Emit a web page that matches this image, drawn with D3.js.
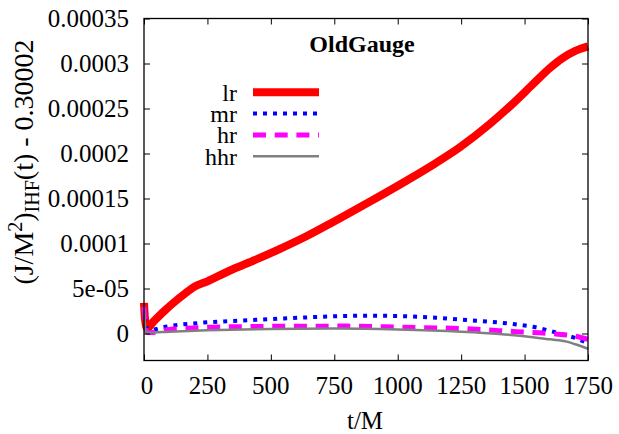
<!DOCTYPE html>
<html>
<head>
<meta charset="utf-8">
<script src="https://cdn.jsdelivr.net/npm/d3@7"></script>
<style>
  html, body { margin: 0; padding: 0; background: #fff; }
</style>
</head>
<body>
<svg id="chart" width="619" height="434" font-family="'Liberation Serif', 'Times New Roman', Times, 'DejaVu Serif', serif"></svg>
<script>
// Time samples (t/M) and IHF energy offsets for each resolution
const tLr = [0, 4, 12, 40, 80, 120, 160, 193, 250, 339, 440, 536, 640, 733, 785, 900, 1036, 1150, 1245, 1364, 1450, 1533, 1600, 1650, 1700, 1750];
const lr  = [3.4e-5, 1.6e-5, 6e-6, 1.4e-5, 2.5e-5, 3.5e-5, 4.4e-5, 5.1e-5, 5.8e-5, 7.0e-5, 8.2e-5, 9.4e-5, 1.08e-4, 1.22e-4, 1.30e-4, 1.48e-4, 1.70e-4, 1.894e-4, 2.07e-4, 2.33e-4, 2.545e-4, 2.77e-4, 2.95e-4, 3.06e-4, 3.14e-4, 3.19e-4];

const tMr = [0, 5, 15, 30, 75, 209, 390, 587, 800, 900, 1009, 1150, 1272, 1400, 1469, 1550, 1600, 1650, 1700, 1750];
const mr  = [3.0e-5, 1.5e-5, 4e-6, 4e-6, 7e-6, 1.15e-5, 1.45e-5, 1.72e-5, 1.95e-5, 1.98e-5, 1.93e-5, 1.75e-5, 1.5e-5, 1.22e-5, 1.0e-5, 6.5e-6, 3e-6, -1e-6, -5e-6, -1.1e-5];

const tHr = [0, 5, 12, 25, 100, 272, 536, 800, 1009, 1272, 1469, 1612, 1700, 1750];
const hr  = [3.0e-5, 1.2e-5, 1e-6, 1e-6, 4.5e-6, 7e-6, 8e-6, 8.2e-6, 7e-6, 5.2e-6, 2e-6, -3e-7, -3e-6, -6.5e-6];

const tHhr = [0, 8, 20, 100, 250, 500, 750, 1000, 1250, 1400, 1500, 1600, 1667, 1700, 1750];
const hhr  = [2.8e-5, 2e-6, 1e-6, 2e-6, 3.5e-6, 5e-6, 5.5e-6, 4.5e-6, 2e-6, -5e-7, -3e-6, -6.5e-6, -9e-6, -1.2e-5, -1.7e-5];

const xTicks = [0, 250, 500, 750, 1000, 1250, 1500, 1750];
const yTicks = [0, 5e-5, 1e-4, 1.5e-4, 2e-4, 2.5e-4, 3e-4, 3.5e-4];
const yTickLabels = ["0", "5e-05", "0.0001", "0.00015", "0.0002", "0.00025", "0.0003", "0.00035"];

const seriesNames = ["lr", "mr", "hr", "hhr"];

const serif = "'Liberation Serif', 'Times New Roman', Times, 'DejaVu Serif', serif";
const svg = d3.select("#chart");
const plotLeft = 144, plotRight = 588, plotTop = 18.5, plotBottom = 360.5;

const x = d3.scaleLinear().domain([0, 1750]).range([plotLeft, plotRight]);
const y = d3.scaleLinear().domain([-3e-5, 3.5e-4]).range([plotBottom, plotTop]);

const styles = {
  lr:  { color: "#ff0000", width: 8,   dash: null },
  mr:  { color: "#0000ff", width: 4,   dash: "4,6" },
  hr:  { color: "#ff00ff", width: 5,   dash: "13,8.7" },
  hhr: { color: "#808080", width: 2.5, dash: null }
};

const series = [
  { name: "hhr", t: tHhr, v: hhr },
  { name: "hr",  t: tHr,  v: hr },
  { name: "mr",  t: tMr,  v: mr },
  { name: "lr",  t: tLr,  v: lr }
];

const line = d3.line()
  .x(d => x(d[0]))
  .y(d => y(d[1]))
  .curve(d3.curveMonotoneX);

// curves, lr first so the finer resolutions sit on top of it
const curves = svg.append("g");
["lr", "mr", "hr", "hhr"].forEach(name => {
  const s = series.find(d => d.name === name);
  const st = styles[name];
  curves.append("path")
    .datum(d3.zip(s.t, s.v))
    .attr("d", line)
    .attr("fill", "none")
    .attr("stroke", st.color)
    .attr("stroke-width", st.width)
    .attr("stroke-dasharray", st.dash)
    .attr("stroke-linejoin", "round");
});

// frame with mirrored inward ticks
const frame = svg.append("g");
const tickLen = 6;
frame.append("g").attr("transform", `translate(0,${plotBottom})`)
  .call(d3.axisTop(x).tickValues(xTicks).tickSize(tickLen).tickFormat(""));
frame.append("g").attr("transform", `translate(0,${plotTop})`)
  .call(d3.axisBottom(x).tickValues(xTicks).tickSize(tickLen).tickFormat(""));
frame.append("g").attr("transform", `translate(${plotLeft},0)`)
  .call(d3.axisRight(y).tickValues(yTicks).tickSize(tickLen).tickFormat(""));
frame.append("g").attr("transform", `translate(${plotRight},0)`)
  .call(d3.axisLeft(y).tickValues(yTicks).tickSize(tickLen).tickFormat(""));
frame.selectAll(".domain").remove();
frame.selectAll(".tick line").attr("stroke", "#000").attr("stroke-width", 1);
frame.append("rect")
  .attr("x", plotLeft).attr("y", plotTop)
  .attr("width", plotRight - plotLeft).attr("height", plotBottom - plotTop)
  .attr("fill", "none").attr("stroke", "#000").attr("stroke-width", 1.3);

// every label uses the same serif face
const label = (sel) => sel.style("font-family", serif).attr("fill", "#000");

// tick labels
svg.append("g").selectAll("text").data(xTicks).join("text")
  .call(label)
  .attr("x", d => x(d) + (d === 0 ? 3 : 0))
  .attr("y", 394)
  .attr("text-anchor", "middle")
  .attr("font-size", 25)
  .text(d => d);

svg.append("g").selectAll("text").data(yTicks).join("text")
  .call(label)
  .attr("x", 129)
  .attr("y", d => y(d) + 8.5)
  .attr("text-anchor", "end")
  .attr("font-size", 25)
  .text((d, i) => yTickLabels[i]);

// axis titles
svg.append("text")
  .call(label)
  .attr("x", 365).attr("y", 429)
  .attr("text-anchor", "middle")
  .attr("font-size", 25)
  .text("t/M");

const yl = svg.append("text")
  .call(label)
  .attr("transform", "translate(33,162) rotate(-90)")
  .attr("text-anchor", "middle")
  .attr("font-size", 28);
yl.append("tspan").text("(J/M");
yl.append("tspan").attr("dy", -11).attr("font-size", 20).text("2");
yl.append("tspan").attr("dy", 11).text(")");
yl.append("tspan").attr("dy", 6).attr("font-size", 20).text("IHF");
yl.append("tspan").attr("dy", -6).text("(t) - 0.30002");

// plot title
svg.append("text")
  .call(label)
  .attr("x", 362).attr("y", 52)
  .attr("text-anchor", "middle")
  .attr("font-size", 24)
  .attr("font-weight", "bold")
  .text("OldGauge");

// legend
const legend = svg.append("g");
seriesNames.forEach((name, i) => {
  const ly = 92.3 + i * 21.3;
  const st = styles[name];
  legend.append("text")
    .call(label)
    .attr("x", 237).attr("y", ly + 8.5)
    .attr("text-anchor", "end")
    .attr("font-size", 24)
    .text(name);
  legend.append("line")
    .attr("x1", 253).attr("x2", 319)
    .attr("y1", ly).attr("y2", ly)
    .attr("stroke", st.color)
    .attr("stroke-width", st.width)
    .attr("stroke-dasharray", st.dash);
});
</script>
</body>
</html>
